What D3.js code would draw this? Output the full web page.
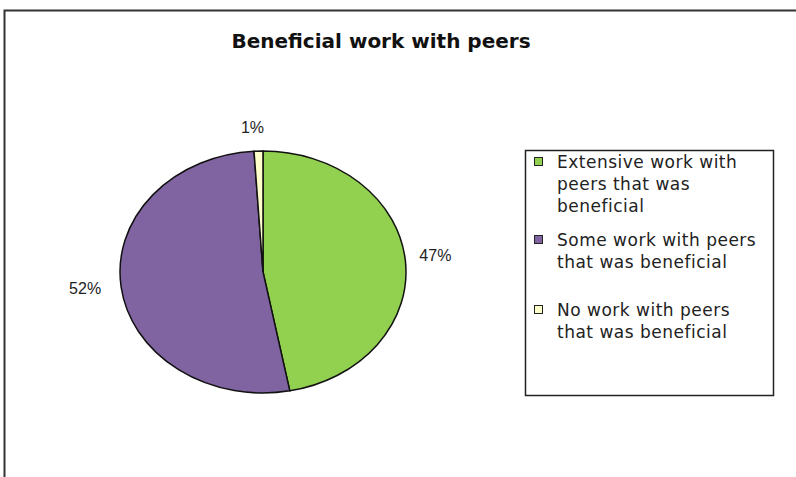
<!DOCTYPE html>
<html>
<head>
<meta charset="utf-8">
<script src="https://cdn.jsdelivr.net/npm/d3@7"></script>
<style>
  body { margin: 0; background: #fff; }
</style>
</head>
<body>
<div class="chart-container"></div>
<script>
var w = 796;
var h = 477;

var categories = [
  ["Extensive work with", "peers that was", "beneficial"],
  ["Some work with peers", "that was beneficial"],
  ["No work with peers", "that was beneficial"]
];
var values = [47, 52, 1];
var pctLabels = ["47%", "52%", "1%"];
var colors = ["#92d050", "#8064a2", "#ffffcc"];

var svg = d3.select(".chart-container")
  .append("svg")
  .attr("width", w)
  .attr("height", h);

// outer chart frame (right and bottom edges are cut off in the image)
svg.append("path")
  .attr("d", "M4.5," + h + "V10.5H" + w)
  .attr("fill", "none")
  .attr("stroke", "#333")
  .attr("stroke-width", 2);

svg.append("text")
  .attr("x", 381)
  .attr("y", 48)
  .attr("text-anchor", "middle")
  .style("font-family", "Tahoma, 'DejaVu Sans', sans-serif")
  .style("font-weight", "bold")
  .style("font-size", "20px")
  .attr("fill", "#111")
  .text("Beneficial work with peers");

// pie drawn as a circle, squashed into an ellipse
var cx = 263, cy = 272, rx = 143, ry = 121;

var pie = d3.pie().sort(null).value(function(d) { return d; });
var arcs = pie(values);
var arc = d3.arc().innerRadius(0).outerRadius(rx);

var g = svg.append("g")
  .attr("transform", "translate(" + cx + "," + cy + ") scale(1," + (ry / rx) + ")");

g.selectAll("path")
  .data(arcs)
  .enter()
  .append("path")
  .attr("d", arc)
  .attr("fill", function(d, i) { return colors[i]; })
  .attr("stroke", "#111")
  .attr("stroke-width", 1.5)
  .attr("vector-effect", "non-scaling-stroke");

// percentage labels outside the ellipse
var labelOffset = [ [30, 0], [-36, 7], [-6, -18] ];
svg.selectAll(".pct-label")
  .data(arcs)
  .enter()
  .append("text")
  .attr("class", "pct-label")
  .attr("x", function(d, i) {
    var a = (d.startAngle + d.endAngle) / 2;
    return cx + Math.sin(a) * rx + labelOffset[i][0];
  })
  .attr("y", function(d, i) {
    var a = (d.startAngle + d.endAngle) / 2;
    return cy - Math.cos(a) * ry + labelOffset[i][1];
  })
  .attr("text-anchor", "middle")
  .style("font-family", "Arial, 'Liberation Sans', sans-serif")
  .style("font-size", "16px")
  .attr("fill", "#222")
  .text(function(d, i) { return pctLabels[i]; });

// legend
var legend = svg.append("g").attr("transform", "translate(525,150)");
legend.append("rect")
  .attr("x", 0.5).attr("y", 0.5)
  .attr("width", 248).attr("height", 245)
  .attr("fill", "#fff")
  .attr("stroke", "#222")
  .attr("stroke-width", 1.5);

var itemTop = [18, 96, 166];
var lineH = 22;

var items = legend.selectAll(".item")
  .data(categories)
  .enter()
  .append("g")
  .attr("class", "item")
  .attr("transform", function(d, i) { return "translate(0," + itemTop[i] + ")"; });

items.append("rect")
  .attr("x", 9.5).attr("y", -10.5)
  .attr("width", 8).attr("height", 8)
  .attr("fill", function(d, i) { return colors[i]; })
  .attr("stroke", "#222");

items.append("text")
  .attr("x", 32)
  .attr("y", 0)
  .style("font-family", "Tahoma, 'DejaVu Sans', sans-serif")
  .style("font-size", "17px")
  .style("letter-spacing", "0.5px")
  .attr("fill", "#222")
  .selectAll("tspan")
  .data(function(d) { return d; })
  .enter()
  .append("tspan")
  .attr("x", 32)
  .attr("dy", function(d, j) { return j === 0 ? 0 : lineH; })
  .text(function(d) { return d; });
</script>
</body>
</html>
